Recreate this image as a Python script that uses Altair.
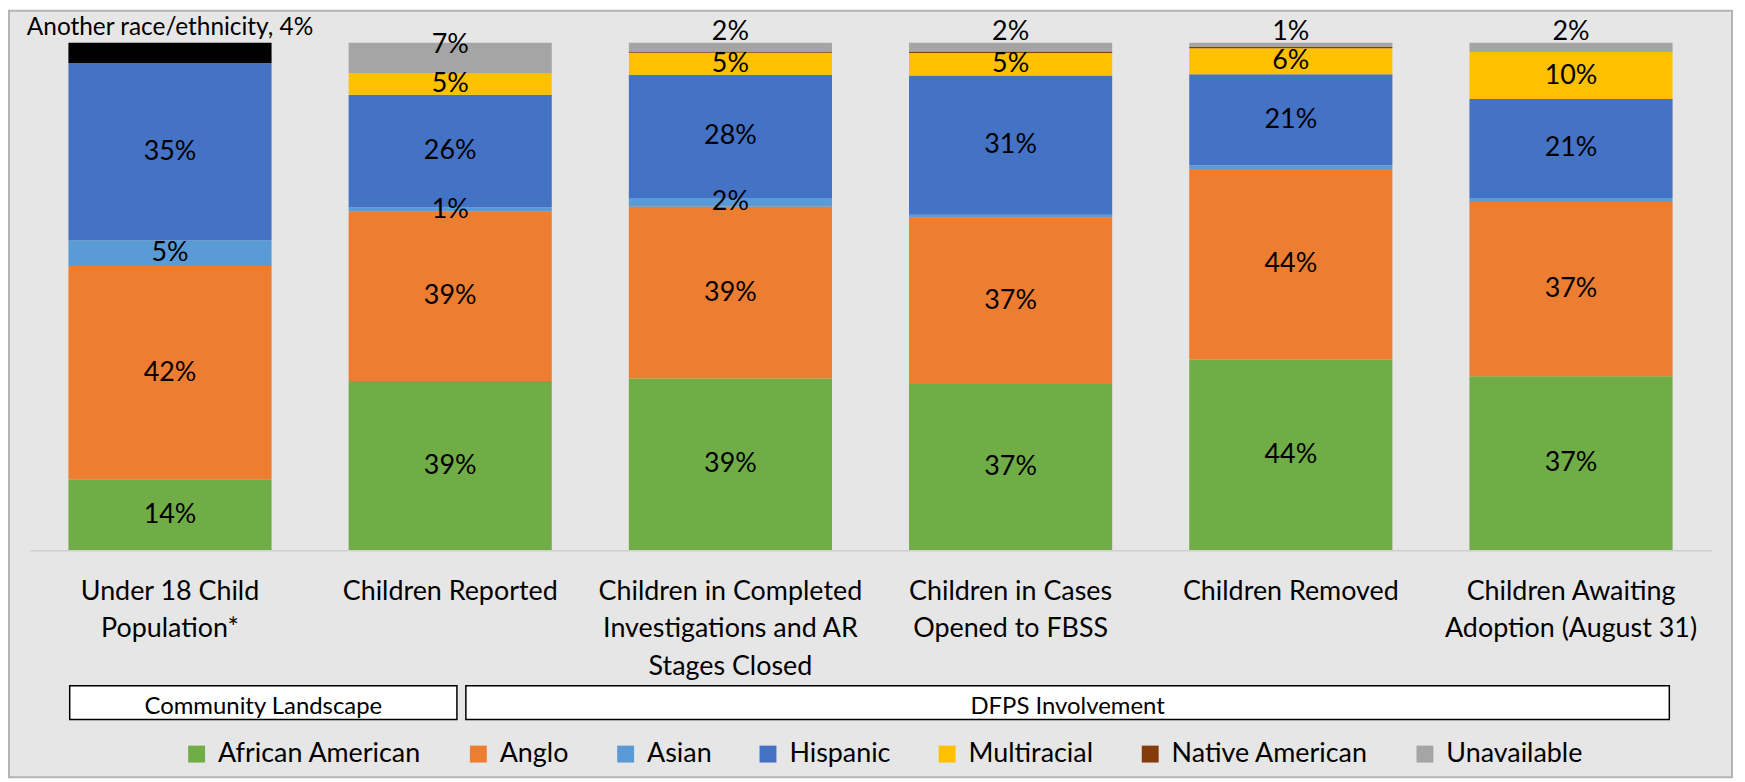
import altair as alt
import pandas as pd

# ---------------- data ----------------
categories = [
    "Under 18 Child\nPopulation*",
    "Children Reported",
    "Children in Completed\nInvestigations and AR\nStages Closed",
    "Children in Cases\nOpened to FBSS",
    "Children Removed",
    "Children Awaiting\nAdoption (August 31)",
]
series = ["African American", "Anglo", "Asian", "Hispanic", "Multiracial",
          "Native American", "Unavailable", "Another race/ethnicity"]
colors = ["#70AD47", "#ED7D31", "#5B9BD5", "#4472C4", "#FFC000",
          "#843C0C", "#A5A5A5", "#000000"]

african_american = [14, 39, 39, 37, 44, 37]
anglo = [42, 39, 39, 37, 44, 37]
asian = [5, 1, 2, 0.7, 0.9, 0.9]
hispanic = [35, 26, 28, 31, 21, 21]
multiracial = [0, 5, 5, 5, 6, 10]
native_american = [0, 0, 0.3, 0.3, 0.3, 0]
unavailable = [0, 7, 2, 2, 1, 2]
another = [4, 0, 0, 0, 0, 0]

series_values = [african_american, anglo, asian, hispanic, multiracial,
                 native_american, unavailable, another]
groups = ["Community Landscape", "DFPS Involvement"]

rows = []
for i, cat in enumerate(categories):
    for j, s in enumerate(series):
        v = series_values[j][i]
        if s == "Another race/ethnicity":
            lab = f"{s}, {round(v)}%" if v > 0 else ""
            kind = "another"
        elif s == "Native American" or v < 1:
            lab = ""
            kind = "none"
        elif s == "Unavailable":
            lab = f"{round(v)}%"
            kind = "top_in" if v >= 5 else "top_out"
        else:
            lab = f"{round(v)}%"
            kind = "mid"
        rows.append({"category": cat, "series": s, "order": j,
                     "value": v, "label": lab, "kind": kind})
df = pd.DataFrame(rows)

FONT = "Lato"

base = (
    alt.Chart(df)
    .transform_joinaggregate(total="sum(value)", groupby=["category"])
    .transform_window(cum="sum(value)", sort=[alt.SortField("order")],
                      groupby=["category"], frame=[None, 0])
    .transform_calculate(
        y1="(datum.cum - datum.value) / datum.total",
        y2="datum.cum / datum.total",
        ymid="(datum.cum - datum.value / 2) / datum.total",
    )
)

xenc = alt.X(
    "category:N", sort=categories, title=None,
    scale=alt.Scale(paddingInner=0.275, paddingOuter=0.1375),
    axis=alt.Axis(
        labelExpr="split(datum.label, '\\n')",
        labelFont=FONT, labelFontSize=27, labelColor="black",
        labelLineHeight=38, labelPadding=28, labelBaseline="top",
        labelAngle=0, labelLimit=400, labelOverlap=False,
        ticks=False, tickSize=0, domainColor="#D0CECE", domainWidth=1.5,
        grid=False, zindex=2,
    ),
)
yscale = alt.Scale(domain=[0, 1])

bars = base.mark_bar().encode(
    x=xenc,
    y=alt.Y("y1:Q", scale=yscale, axis=None),
    y2="y2:Q",
    color=alt.Color(
        "series:N",
        scale=alt.Scale(domain=series, range=colors),
        legend=alt.Legend(
            values=series[:7], orient="none", legendX=154, legendY=701,
            direction="horizontal", columns=7, title=None,
            symbolType="square", symbolSize=289, symbolStrokeWidth=0,
            labelFont=FONT, labelFontSize=27, labelColor="black",
            labelOffset=8, columnPadding=43, padding=0, labelLimit=400,
        ),
    ),
)

mid_labels = base.transform_filter("datum.kind == 'mid'").mark_text(
    font=FONT, fontSize=27, color="black", baseline="middle"
).encode(x=xenc, y=alt.Y("ymid:Q", scale=yscale, axis=None), text="label:N")

top_out = base.transform_filter("datum.kind == 'top_out'").mark_text(
    font=FONT, fontSize=27, color="black", baseline="alphabetic", dy=-3
).encode(x=xenc, y=alt.Y("y2:Q", scale=yscale, axis=None), text="label:N")

top_in = base.transform_filter("datum.kind == 'top_in'").mark_text(
    font=FONT, fontSize=27, color="black", baseline="alphabetic", dy=10
).encode(x=xenc, y=alt.Y("y2:Q", scale=yscale, axis=None), text="label:N")

another_lab = base.transform_filter("datum.kind == 'another'").mark_text(
    font=FONT, fontSize=24.5, color="black", baseline="alphabetic", dy=-8
).encode(x=xenc, y=alt.Y("y2:Q", scale=yscale, axis=None), text="label:N")

# ---------------- decorations ----------------
frame = alt.Chart(pd.DataFrame({"g": ["frame"]})).mark_rect(
    fill="#E7E6E6", stroke="#B4B4B4", strokeWidth=2
).encode(x=alt.value(-21), x2=alt.value(1710), y=alt.value(-32), y2=alt.value(738))

gdf1 = pd.DataFrame({"g": [groups[0]]})
gdf2 = pd.DataFrame({"g": [groups[1]]})
box1 = alt.Chart(gdf1).mark_rect(fill="white", stroke="black", strokeWidth=1.5).encode(
    x=alt.value(40), x2=alt.value(429), y=alt.value(646), y2=alt.value(680))
box2 = alt.Chart(gdf2).mark_rect(fill="white", stroke="black", strokeWidth=1.5).encode(
    x=alt.value(438), x2=alt.value(1647), y=alt.value(646), y2=alt.value(680))
txt1 = alt.Chart(gdf1).mark_text(font=FONT, fontSize=24, color="black",
                                 baseline="alphabetic", align="center").encode(
    x=alt.value(234.5), y=alt.value(674), text="g:N")
txt2 = alt.Chart(gdf2).mark_text(font=FONT, fontSize=24, color="black",
                                 baseline="alphabetic", align="center").encode(
    x=alt.value(1042.5), y=alt.value(674), text="g:N")

chart = alt.layer(
    frame, bars, mid_labels, top_out, top_in, another_lab, box1, box2, txt1, txt2
).properties(
    width=1689, height=510,
    padding={"left": 22, "top": 33, "right": 26, "bottom": 231},
    autosize=alt.AutoSizeParams(type="none"),
    background="white",
).configure_view(stroke=None)

chart.save("out.html", embed_options={"renderer": "svg", "actions": False})
